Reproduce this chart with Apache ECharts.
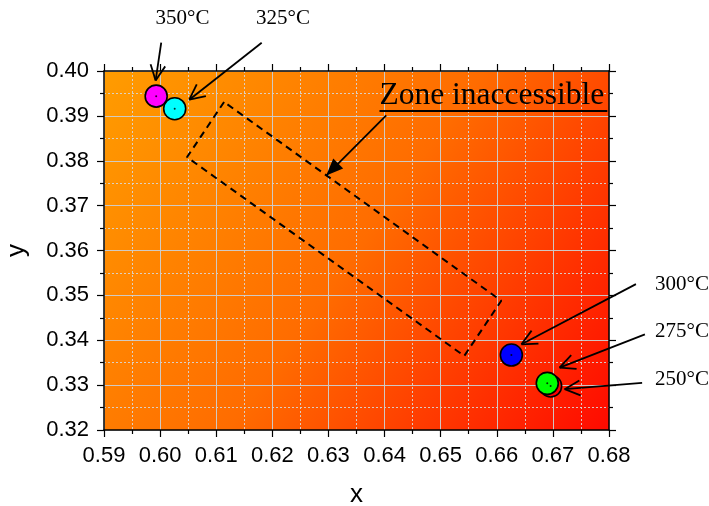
<!DOCTYPE html>
<html><head><meta charset="utf-8">
<script src="https://cdn.jsdelivr.net/npm/echarts@6/dist/echarts.min.js"></script>
<style>html,body{margin:0;padding:0;background:#fff}#c{width:709px;height:506px}</style>
</head><body><div id="c"></div>
<script>
// ---- data ----
const xMin = 0.59, xMax = 0.68, xStep = 0.01;
const yMin = 0.32, yMax = 0.40, yStep = 0.01;
const temps  = ['250°C', '275°C', '300°C', '325°C', '350°C'];
const ptX    = [0.6696, 0.6690, 0.6626, 0.6026, 0.5993];
const ptY    = [0.3298, 0.3304, 0.3367, 0.3916, 0.3944];
const ptCol  = ['#FF0000', '#00FF00', '#0000FF', '#00FFFF', '#FF00FF'];
// temperature label anchors and arrows (data coordinates)
const labX   = [0.6930, 0.6930, 0.6930, 0.6219, 0.6040];
const labY   = [0.3313, 0.3420, 0.3525, 0.4118, 0.4118];
const arFromX = [0.6859, 0.6864, 0.6848, 0.6181, 0.6002];
const arFromY = [0.3305, 0.3413, 0.3525, 0.4063, 0.4063];
const arToX   = [0.6721, 0.6712, 0.6644, 0.6052, 0.5992];
const arToY   = [0.3291, 0.3339, 0.3391, 0.3936, 0.3979];
// inaccessible zone (dashed polygon)
const zoneX = [0.6114, 0.6048, 0.6542, 0.6608, 0.6114];
const zoneY = [0.3931, 0.3808, 0.3365, 0.3488, 0.3931];
const zoneText = 'Zone inaccessible';
const zoneTextX = 0.6391, zoneTextY = 0.3944;
const zoneLineX = [0.6391, 0.6797], zoneLineY = 0.3911;
const zoneArFrom = [0.6403, 0.3901], zoneArTo = [0.6296, 0.3767];

const chart = echarts.init(document.getElementById('c'), null, {renderer: 'canvas'});
const axisLine = {show: true, onZero: false, lineStyle: {color: '#000', width: 1.5}};
const tick = {show: true, inside: false, length: 7, lineStyle: {color: '#000', width: 1.2}};
const minorTick = {show: true, splitNumber: 2, length: 4, lineStyle: {color: '#000', width: 1.2}};
const fmt = v => v.toFixed(2);
const labelFont = {fontFamily: 'Liberation Sans, Arial, sans-serif', fontSize: 22, color: '#000'};

const series = [];
series.push({
  type: 'line', data: zoneX.map((x, i) => [x, zoneY[i]]), symbol: 'none', silent: true,
  lineStyle: {color: '#000', width: 2, type: [7, 5]}, z: 3
});
temps.forEach((t, i) => {
  series.push({
    type: 'scatter', name: t, data: [[ptX[i], ptY[i]]], symbolSize: 22, z: 4 + i,
    itemStyle: {color: ptCol[i], borderColor: '#000', borderWidth: 1.6, opacity: 1}
  });
});
series.push({
  type: 'scatter', data: ptX.map((x, i) => [x, ptY[i]]), symbolSize: 2, z: 20,
  itemStyle: {color: '#000'}
});

chart.setOption({
  animation: false,
  grid: {
    left: 104, right: 100, top: 71, bottom: 76, show: true, borderWidth: 0,
    containLabel: false, outerBoundsMode: 'none',
    backgroundColor: new echarts.graphic.LinearGradient(0, 0, 1, 1, [
      {offset: 0, color: '#FF9C00'}, {offset: 0.5, color: '#FF6C00'}, {offset: 1, color: '#FF0A00'}
    ])
  },
  xAxis: [
    {type: 'value', position: 'bottom', min: xMin, max: xMax, interval: xStep,
     axisLine, axisTick: tick, minorTick,
     axisLabel: Object.assign({formatter: fmt, margin: 15}, labelFont),
     splitLine: {show: true, lineStyle: {color: 'rgba(205,205,205,0.95)', width: 1}},
     minorSplitLine: {show: true, lineStyle: {color: 'rgba(215,215,215,0.9)', width: 1, type: [2, 2]}},
     name: 'x', nameLocation: 'middle', nameGap: 52,
     nameTextStyle: {fontFamily: 'Liberation Sans, Arial, sans-serif', fontSize: 26, color: '#000'}},
    {type: 'value', position: 'top', min: xMin, max: xMax, interval: xStep,
     axisLine, axisTick: tick, minorTick, axisLabel: {show: false}, splitLine: {show: false}}
  ],
  yAxis: [
    {type: 'value', position: 'left', min: yMin, max: yMax, interval: yStep,
     axisLine, axisTick: tick, minorTick,
     axisLabel: Object.assign({formatter: fmt, margin: 15}, labelFont),
     splitLine: {show: true, lineStyle: {color: 'rgba(205,205,205,0.95)', width: 1}},
     minorSplitLine: {show: true, lineStyle: {color: 'rgba(215,215,215,0.9)', width: 1, type: [2, 2]}},
     name: 'y', nameLocation: 'middle', nameGap: 74, nameRotate: 90,
     nameTextStyle: {fontFamily: 'Liberation Sans, Arial, sans-serif', fontSize: 26, color: '#000'}},
    {type: 'value', position: 'right', min: yMin, max: yMax, interval: yStep,
     axisLine, axisTick: tick, minorTick, axisLabel: {show: false}, splitLine: {show: false}}
  ],
  series
});

// ---- annotations ----
function P(x, y) { return chart.convertToPixel({xAxisIndex: 0, yAxisIndex: 0}, [x, y]); }
const gfx = [];
const serif = '"Liberation Serif", "Times New Roman", serif';
function openHead(from, to, len, ang) {
  const a = Math.atan2(to[1] - from[1], to[0] - from[0]);
  [a - ang, a + ang].forEach(b => {
    gfx.push({type: 'line', z: 50, shape: {x1: to[0], y1: to[1], x2: to[0] - len * Math.cos(b), y2: to[1] - len * Math.sin(b)},
      style: {stroke: '#000', lineWidth: 1.8}});
  });
}
temps.forEach((t, i) => {
  const l = P(labX[i], labY[i]);
  gfx.push({type: 'text', z: 50, style: {text: t, x: l[0], y: l[1], font: '21px ' + serif, fill: '#000', align: 'center', verticalAlign: 'middle'}});
  const f = P(arFromX[i], arFromY[i]), to = P(arToX[i], arToY[i]);
  gfx.push({type: 'line', z: 50, shape: {x1: f[0], y1: f[1], x2: to[0], y2: to[1]}, style: {stroke: '#000', lineWidth: 1.8}});
  openHead(f, to, 17, 0.45);
});
const zt = P(zoneTextX, zoneTextY);
gfx.push({type: 'text', z: 50, style: {text: zoneText, x: zt[0], y: zt[1], font: '31.5px ' + serif, fill: '#000', align: 'left', verticalAlign: 'middle'}});
const u1 = P(zoneLineX[0], zoneLineY), u2 = P(zoneLineX[1], zoneLineY);
gfx.push({type: 'line', z: 50, shape: {x1: u1[0], y1: u1[1], x2: u2[0], y2: u2[1]}, style: {stroke: '#000', lineWidth: 2}});
const zf = P(zoneArFrom[0], zoneArFrom[1]), ztp = P(zoneArTo[0], zoneArTo[1]);
gfx.push({type: 'line', z: 50, shape: {x1: zf[0], y1: zf[1], x2: ztp[0], y2: ztp[1]}, style: {stroke: '#000', lineWidth: 1.8}});
(function () {
  const a = Math.atan2(ztp[1] - zf[1], ztp[0] - zf[0]), len = 17, hw = 7;
  const bx = ztp[0] - len * Math.cos(a), by = ztp[1] - len * Math.sin(a);
  const nx = -Math.sin(a), ny = Math.cos(a);
  gfx.push({type: 'polygon', z: 50, shape: {points: [[ztp[0], ztp[1]], [bx + hw * nx, by + hw * ny], [bx - hw * nx, by - hw * ny]]},
    style: {fill: '#000'}});
})();
chart.setOption({graphic: gfx});
</script>
</body></html>
